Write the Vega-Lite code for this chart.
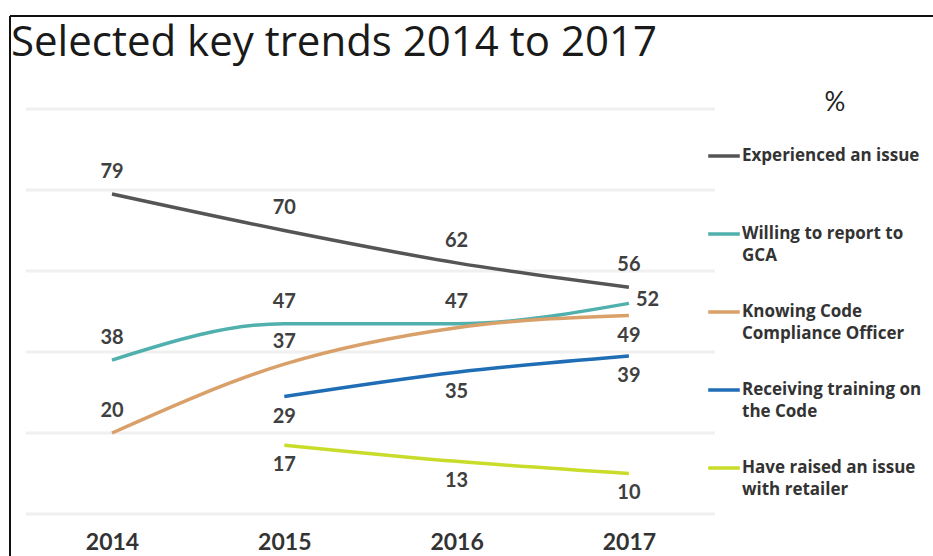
{
  "$schema": "https://vega.github.io/schema/vega-lite/v6.json",
  "width": 923,
  "height": 540,
  "autosize": {"type": "none"},
  "padding": {"left": 10, "top": 16, "right": 0, "bottom": 0},
  "background": "white",
  "config": {"view": {"stroke": null}, "font": "Lato", "style": {"guide-label": {"lineHeight": 22}}},
  "title": {
    "text": "Selected key trends 2014 to 2017",
    "anchor": "start",
    "frame": "group",
    "font": "Open Sans",
    "fontSize": 42,
    "fontWeight": "normal",
    "color": "#1a1a1a",
    "baseline": "alphabetic",
    "offset": -44,
    "dy": 39,
    "dx": 1
  },
  "datasets": {
    "trends": [
      {"series": "Experienced an issue", "year": 2014, "value": 79},
      {"series": "Experienced an issue", "year": 2015, "value": 70},
      {"series": "Experienced an issue", "year": 2016, "value": 62},
      {"series": "Experienced an issue", "year": 2017, "value": 56},
      {"series": "Willing to report to GCA", "year": 2014, "value": 38},
      {"series": "Willing to report to GCA", "year": 2015, "value": 47},
      {"series": "Willing to report to GCA", "year": 2016, "value": 47},
      {"series": "Willing to report to GCA", "year": 2017, "value": 52},
      {"series": "Knowing Code Compliance Officer", "year": 2014, "value": 20},
      {"series": "Knowing Code Compliance Officer", "year": 2015, "value": 37},
      {"series": "Knowing Code Compliance Officer", "year": 2016, "value": 46},
      {"series": "Knowing Code Compliance Officer", "year": 2017, "value": 49},
      {"series": "Receiving training on the Code", "year": 2015, "value": 29},
      {"series": "Receiving training on the Code", "year": 2016, "value": 35},
      {"series": "Receiving training on the Code", "year": 2017, "value": 39},
      {"series": "Have raised an issue with retailer", "year": 2015, "value": 17},
      {"series": "Have raised an issue with retailer", "year": 2016, "value": 13},
      {"series": "Have raised an issue with retailer", "year": 2017, "value": 10}
    ],
    "grid": [{"v": 0}, {"v": 20}, {"v": 40}, {"v": 60}, {"v": 80}, {"v": 100}]
  },
  "data": {"name": "trends"},
  "layer": [
    {
      "data": {"name": "grid"},
      "mark": {"type": "rule", "color": "#f0f0f0", "strokeWidth": 3},
      "encoding": {
        "x": {
          "datum": 2013.5,
          "type": "quantitative",
          "scale": {"domain": [2013.408, 2018.765], "nice": false, "zero": false},
          "axis": {
            "values": [2014, 2015, 2016, 2017],
            "format": "d",
            "orient": "bottom",
            "offset": -25,
            "domain": false,
            "ticks": false,
            "tickSize": 0,
            "grid": false,
            "labelPadding": 0,
            "labelBaseline": "top",
            "labelFont": "Lato",
            "labelFontWeight": "bold",
            "labelFontSize": 23,
            "labelColor": "#333333",
            "title": null
          }
        },
        "x2": {"datum": 2017.5},
        "y": {"field": "v", "type": "quantitative", "scale": {"domain": [-10.37, 122.96], "nice": false, "zero": false}, "axis": null}
      }
    },
    {
      "data": {"values": [{"k": "frame"}]},
      "mark": {"type": "rule", "color": "#111111", "strokeWidth": 2},
      "encoding": {"x": {"datum": 2013.408, "type": "quantitative"}}
    },
    {
      "data": {"values": [{"k": "frame"}]},
      "mark": {"type": "rule", "color": "#111111", "strokeWidth": 2},
      "encoding": {"y": {"datum": 122.96, "type": "quantitative", "axis": null}}
    },
    {
      "mark": {"type": "line", "interpolate": "monotone", "strokeWidth": 3.5},
      "encoding": {
        "x": {"field": "year", "type": "quantitative"},
        "y": {"field": "value", "type": "quantitative", "axis": null},
        "color": {
          "field": "series",
          "type": "nominal",
          "scale": {
            "domain": ["Experienced an issue", "Willing to report to GCA", "Knowing Code Compliance Officer", "Receiving training on the Code", "Have raised an issue with retailer"],
            "range": ["#555555", "#4fb0ae", "#d9a06a", "#1f6db5", "#c9dc2a"]
          },
          "legend": {
            "orient": "none",
            "legendX": 696,
            "legendY": 122,
            "title": null,
            "symbolType": "stroke",
            "symbolSize": 1000,
            "symbolStrokeWidth": 3.5,
            "labelFont": "Open Sans",
            "labelFontWeight": "bold",
            "labelFontSize": 17,
            "labelColor": "#333333",
            "labelLimit": 300,
            "labelOffset": 0,
            "rowPadding": 30,
            "padding": 0,
            "labelExpr": "datum.label == 'Willing to report to GCA' ? ['Willing to report to', 'GCA'] : datum.label == 'Knowing Code Compliance Officer' ? ['Knowing Code', 'Compliance Officer'] : datum.label == 'Receiving training on the Code' ? ['Receiving training on', 'the Code'] : datum.label == 'Have raised an issue with retailer' ? ['Have raised an issue', 'with retailer'] : [datum.label, ' ']"
          }
        }
      }
    },
    {
      "transform": [{"filter": "datum.series == 'Experienced an issue' || (datum.series == 'Willing to report to GCA' && datum.year < 2017) || (datum.series == 'Knowing Code Compliance Officer' && datum.year < 2016)"}],
      "mark": {"type": "text", "font": "Lato", "fontWeight": "bold", "fontSize": 20, "color": "#404040", "baseline": "middle", "dy": -22},
      "encoding": {
        "x": {"field": "year", "type": "quantitative"},
        "y": {"field": "value", "type": "quantitative", "axis": null},
        "text": {"field": "value"}
      }
    },
    {
      "transform": [{"filter": "datum.series == 'Receiving training on the Code' || datum.series == 'Have raised an issue with retailer' || (datum.series == 'Knowing Code Compliance Officer' && datum.year == 2017)"}],
      "mark": {"type": "text", "font": "Lato", "fontWeight": "bold", "fontSize": 20, "color": "#404040", "baseline": "middle", "dy": 20},
      "encoding": {
        "x": {"field": "year", "type": "quantitative"},
        "y": {"field": "value", "type": "quantitative", "axis": null},
        "text": {"field": "value"}
      }
    },
    {
      "transform": [{"filter": "datum.series == 'Willing to report to GCA' && datum.year == 2017"}],
      "mark": {"type": "text", "font": "Lato", "fontWeight": "bold", "fontSize": 20, "color": "#404040", "baseline": "middle", "align": "left", "dx": 7, "dy": -3},
      "encoding": {
        "x": {"field": "year", "type": "quantitative"},
        "y": {"field": "value", "type": "quantitative", "axis": null},
        "text": {"field": "value"}
      }
    },
    {
      "data": {"values": [{"t": "%"}]},
      "mark": {"type": "text", "font": "Lato", "fontSize": 26, "color": "#222222", "baseline": "middle", "align": "center"},
      "encoding": {
        "x": {"datum": 2018.196, "type": "quantitative"},
        "y": {"datum": 101.5, "type": "quantitative", "axis": null},
        "text": {"field": "t"}
      }
    }
  ]
}
